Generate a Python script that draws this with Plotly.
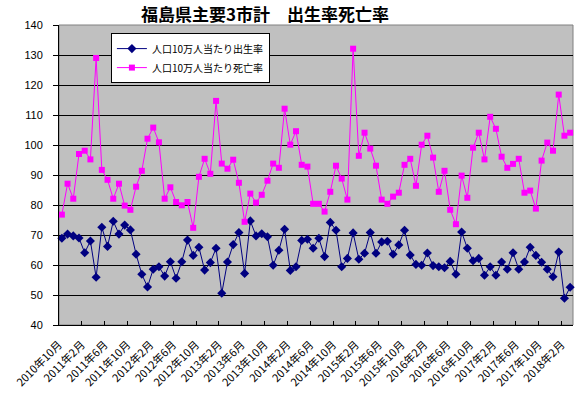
import plotly.graph_objects as go

# Tick labels (every 4 months, Oct 2010 .. Feb 2018)
tick_labels = ["2010年10月", "2011年2月", "2011年6月", "2011年10月", "2012年2月", "2012年6月",
               "2012年10月", "2013年2月", "2013年6月", "2013年10月", "2014年2月", "2014年6月",
               "2014年10月", "2015年2月", "2015年6月", "2015年10月", "2016年2月", "2016年6月",
               "2016年10月", "2017年2月", "2017年6月", "2017年10月", "2018年2月"]

# Monthly categories: Oct 2010 .. Mar 2018 (90 months)
months = []
y, m = 2010, 10
for _ in range(90):
    months.append(f"{y}年{m}月")
    m += 1
    if m > 12:
        m = 1
        y += 1

birth_rate = [68.9, 70.3, 69.7, 69.0, 64.1, 68.0, 55.9, 72.6, 66.2, 74.6,
              70.3, 73.3, 71.7, 63.6, 56.9, 52.7, 58.6, 59.4, 56.3, 61.1,
              55.6, 61.1, 68.3, 63.2, 65.9, 58.3, 60.8, 65.6, 50.6, 61.0,
              66.8, 70.8, 57.2, 74.7, 69.7, 70.4, 69.4, 59.9, 64.9, 71.9,
              58.2, 59.4, 68.2, 68.6, 65.6, 68.9, 62.8, 74.2, 71.6, 59.4,
              62.2, 70.7, 61.9, 63.9, 70.8, 63.9, 67.7, 67.9, 63.6, 66.7,
              71.6, 63.3, 60.2, 59.9, 64.0, 59.8, 59.4, 59.1, 61.2, 56.9,
              71.0, 65.6, 61.4, 62.2, 56.6, 59.4, 56.6, 61.0, 58.6, 64.1,
              58.6, 61.0, 65.9, 63.2, 60.9, 58.6, 56.1, 64.3, 48.9, 52.6]

death_rate = [76.8, 87.1, 82.1, 97.0, 98.1, 95.2, 129.0, 91.7, 88.4, 82.1,
              87.1, 79.8, 78.4, 86.1, 91.4, 102.1, 105.8, 100.9, 82.1, 85.9,
              81.0, 79.9, 81.0, 72.4, 89.4, 95.4, 90.4, 114.7, 93.8, 92.1,
              95.1, 87.4, 74.4, 83.8, 80.8, 83.4, 88.1, 93.8, 92.4, 112.1,
              100.1, 104.6, 93.4, 92.8, 80.4, 80.4, 77.8, 84.4, 93.1, 88.8,
              81.8, 132.1, 96.4, 104.1, 98.8, 93.1, 81.8, 80.4, 82.8, 84.1,
              93.4, 95.4, 86.4, 100.1, 103.1, 95.8, 84.4, 91.4, 78.4, 73.6,
              89.8, 82.4, 99.1, 104.1, 95.2, 109.4, 105.4, 96.1, 92.4, 93.7,
              95.4, 84.1, 84.8, 78.8, 94.8, 100.8, 98.1, 116.8, 103.1, 104.1]

x_idx = list(range(len(months)))

fig = go.Figure()
fig.add_trace(go.Scatter(
    x=x_idx, y=birth_rate, name="人口10万人当たり出生率", mode="lines+markers",
    line=dict(color="#000080", width=1),
    marker=dict(symbol="diamond", size=7, color="#000080"),
    customdata=months, hovertemplate="%{customdata}: %{y}<extra></extra>",
    cliponaxis=False))
fig.add_trace(go.Scatter(
    x=x_idx, y=death_rate, name="人口10万人当たり死亡率", mode="lines+markers",
    line=dict(color="#FF00FF", width=1),
    marker=dict(symbol="square", size=6, color="#FF00FF"),
    customdata=months, hovertemplate="%{customdata}: %{y}<extra></extra>",
    cliponaxis=False))

fig.update_layout(
    width=580, height=394,
    margin=dict(l=59, r=7, t=25, b=69, autoexpand=False),
    paper_bgcolor="white", plot_bgcolor="#C0C0C0",
    font=dict(family="Noto Sans CJK JP", color="black"),
    title=dict(text="<b>福島県主要3市計　出生率死亡率</b>", x=0.457, xanchor="center",
               y=0.962, yanchor="middle",
               font=dict(family="Noto Sans CJK JP", size=17, color="black")),
    legend=dict(x=0.101, y=0.973, xanchor="left", yanchor="top",
                bgcolor="white", bordercolor="black", borderwidth=1,
                font=dict(family="Noto Sans CJK JP", size=10, color="black"),
                tracegroupgap=0, itemwidth=30),
    showlegend=True,
)

fig.update_xaxes(
    automargin=False,
    range=[-0.5, len(months) - 0.5],
    tickmode="array",
    tickvals=[i - 0.5 for i in range(0, len(months), 4)],
    ticktext=tick_labels,
    tickangle=-45,
    ticks="inside", ticklen=4, tickcolor="black",
    ticklabelstandoff=8,
    showline=True, linecolor="black", linewidth=1,
    showgrid=False, zeroline=False,
    tickfont=dict(family="Noto Sans CJK JP", size=11, color="black"),
)
fig.update_yaxes(
    automargin=False,
    range=[40, 140], dtick=10, tick0=40,
    ticks="outside", ticklen=5, tickcolor="black",
    ticklabelstandoff=8,
    showline=True, linecolor="black", linewidth=1,
    showgrid=True, gridcolor="black", gridwidth=1,
    zeroline=False,
    tickfont=dict(family="Liberation Sans", size=11, color="black"),
)

fig.add_shape(type="rect", xref="paper", yref="paper", x0=0, y0=0, x1=1, y1=1,
              line=dict(color="#808080", width=1), layer="below")

fig.write_html("out.html",
               config={"displayModeBar": False},
               post_script="document.body.style.margin='0';document.body.style.overflow='hidden';")
